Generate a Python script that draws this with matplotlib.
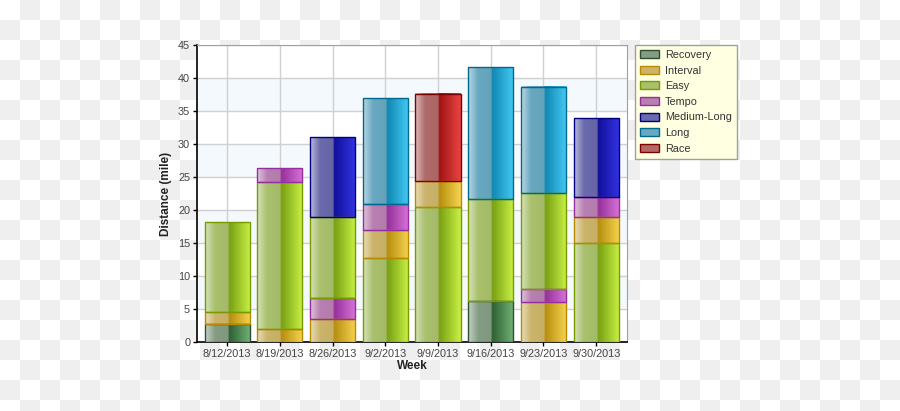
import numpy as np
import matplotlib
matplotlib.use('Agg')
import matplotlib.pyplot as plt
from matplotlib.colors import to_rgb
from matplotlib.patches import Patch

plt.rcParams['font.family'] = ['Liberation Sans', 'DejaVu Sans']

weeks = ['8/12/2013', '8/19/2013', '8/26/2013', '9/2/2013',
         '9/9/2013', '9/16/2013', '9/23/2013', '9/30/2013']
series = ['Recovery', 'Interval', 'Easy', 'Tempo', 'Medium-Long', 'Long', 'Race']

recovery = [2.7, 0, 0, 0, 0, 6.15, 0, 0]
interval = [1.85, 2.0, 3.5, 4.3, 3.95, 0, 6.0, 3.9]
easy = [13.6, 22.3, 12.25, 12.7, 20.5, 15.45, 14.5, 15.0]
tempo = [0, 2.05, 3.2, 3.9, 0, 0, 2.0, 3.05]
medium_long = [0, 0, 12.1, 0, 0, 0, 0, 11.95]
long_run = [0, 0, 0, 16.03, 0, 20.0, 16.1, 0]
race = [0, 0, 0, 0, 13.2, 0, 0, 0]

# stacking order inside each week (bottom -> top)
stack_order = [
    ['Recovery', 'Interval', 'Easy'],
    ['Interval', 'Easy', 'Tempo'],
    ['Interval', 'Tempo', 'Easy', 'Medium-Long'],
    ['Easy', 'Interval', 'Tempo', 'Long'],
    ['Easy', 'Interval', 'Race'],
    ['Recovery', 'Easy', 'Long'],
    ['Interval', 'Tempo', 'Easy', 'Long'],
    ['Easy', 'Interval', 'Tempo', 'Medium-Long'],
]

values = dict(zip(series, [recovery, interval, easy, tempo, medium_long, long_run, race]))

# (muted, dark, bright, edge)
colors = {
    'Recovery':    ('#849c84', '#2f5f33', '#72b478', '#2d4f30'),
    'Interval':    ('#ccb46a', '#b68e0e', '#f6d452', '#b88a00'),
    'Easy':        ('#a9c06c', '#78a012', '#caf246', '#789a00'),
    'Tempo':       ('#b880b2', '#96309a', '#d874d8', '#962ea0'),
    'Medium-Long': ('#6a6aac', '#10109a', '#3434e4', '#000080'),
    'Long':        ('#68a8c0', '#1088b2', '#44caf4', '#00688e'),
    'Race':        ('#b06a6a', '#a01414', '#ea4444', '#800000'),
}


def gradient(name, n=200):
    muted, dark, bright, edge = [np.array(to_rgb(c)) for c in colors[name]]
    light = muted + (1 - muted) * 0.55
    xs = np.linspace(0, 1, n)
    stops = [0.0, 0.22, 0.5, 0.53, 1.0]
    cols = [light, muted, muted * 0.97, dark, bright]
    out = np.zeros((1, n, 3))
    for k in range(3):
        out[0, :, k] = np.interp(xs, stops, [c[k] for c in cols])
    return out


fig = plt.figure(figsize=(9, 4.11), dpi=100)

# checkerboard transparency background
H, W = 411, 900
yy, xx = np.mgrid[0:H, 0:W]
checker = ((yy // 20 + xx // 20) % 2).astype(float)
bg = np.ones((H, W, 3))
bg[checker == 1] = 0xef / 255.0
fig.figimage(bg, xo=0, yo=0, origin='upper', zorder=-10)

ax = fig.add_axes([0.219, 0.168, 0.478, 0.7225])
ax.set_facecolor('white')

x = np.arange(len(weeks))
width = 0.855

for i in range(len(weeks)):
    bottom = 0
    for name in stack_order[i]:
        v = values[name][i]
        bar = ax.bar(x[i], v, width, bottom=bottom, facecolor='none',
                     edgecolor=colors[name][3], linewidth=1.0, zorder=4)[0]
        x0, y0 = bar.get_x(), bar.get_y()
        ax.imshow(gradient(name), extent=[x0, x0 + bar.get_width(), y0, y0 + bar.get_height()],
                  aspect='auto', interpolation='bilinear', zorder=3)
        bottom += v

ax.set_xlim(-0.57, 7.59)
ax.set_ylim(0, 45)

# alternating bands
for b in range(5, 45, 10):
    ax.axhspan(b, b + 5, color='#f3f9fc', zorder=0, lw=0)

ax.set_yticks(np.arange(0, 46, 5))
ax.set_xticks(x)
ax.set_xticklabels(weeks)
ax.grid(True, color='#d0d0d0', linewidth=1, zorder=1)
ax.set_axisbelow(True)
ax.tick_params(axis='both', labelsize=7.8, labelcolor='#444444', length=3, width=1, pad=2)

for s in ['left', 'bottom']:
    ax.spines[s].set_color('black')
    ax.spines[s].set_linewidth(1.2)
for s in ['top', 'right']:
    ax.spines[s].set_color('#a0a0a0')

ax.set_xlabel('Week', fontsize=8.5, fontweight='bold', labelpad=1, color='#222222')
ax.set_ylabel('Distance (mile)', fontsize=8.5, fontweight='bold', labelpad=4, color='#222222')

handles = [Patch(facecolor=colors[n][0], edgecolor=colors[n][3], label=n) for n in series]
leg = fig.legend(handles=handles, loc='upper left', bbox_to_anchor=(0.7056, 0.8905),
                 fontsize=7.8, frameon=True, fancybox=False, handlelength=1.8,
                 handleheight=0.75, labelspacing=0.52, borderpad=0.45, handletextpad=0.5,
                 borderaxespad=0)
leg.get_frame().set_facecolor('#ffffe2')
leg.get_frame().set_edgecolor('#a0a0a0')
leg.get_frame().set_alpha(1)
for t in leg.get_texts():
    t.set_color('#333333')

fig.savefig('out.png', dpi=100)
